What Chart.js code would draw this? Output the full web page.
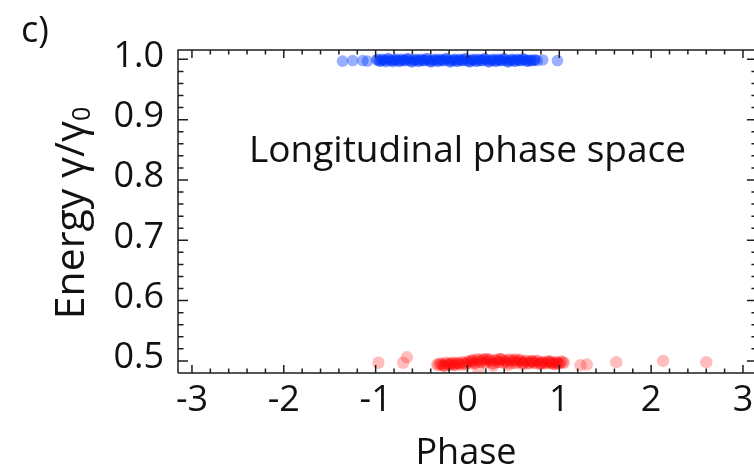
<!DOCTYPE html>
<html>
<head>
<meta charset="utf-8">
<script src="https://cdn.jsdelivr.net/npm/chart.js@4/dist/chart.umd.min.js"></script>
<style>
  html, body { margin: 0; padding: 0; background: #fff; }
  #wrap { width: 754px; height: 468px; }
</style>
</head>
<body>
<div id="wrap"><canvas id="c"></canvas></div>
<script>
// tick labels
var xTicks = [-3, -2, -1, 0, 1, 2, 3];
var yTicks = [0.5, 0.6, 0.7, 0.8, 0.9, 1.0];

// blue bunch, energy ~ 1.0
var blueX = [-1.36, -1.25, -1.14, -1.09,
  -0.99, -0.96, -0.93, -0.90, -0.87, -0.84, -0.81, -0.78, -0.75, -0.72, -0.69, -0.66, -0.63, -0.60,
  -0.57, -0.54, -0.51, -0.48, -0.45, -0.42, -0.39, -0.36, -0.33, -0.30, -0.27, -0.24, -0.21, -0.18,
  -0.15, -0.12, -0.09, -0.06, -0.03, 0.00, 0.03, 0.06, 0.09, 0.12, 0.15, 0.18, 0.21, 0.24, 0.27,
  0.30, 0.33, 0.36, 0.39, 0.42, 0.45, 0.48, 0.51, 0.54, 0.57, 0.60, 0.63, 0.66, 0.69, 0.73, 0.76,
  0.82, 0.98,
  -0.975, -0.945, -0.915, -0.885, -0.855, -0.825, -0.795, -0.765, -0.735, -0.705, -0.675, -0.645,
  -0.615, -0.585, -0.555, -0.525, -0.495, -0.465, -0.435, -0.405, -0.375, -0.345, -0.315, -0.285,
  -0.255, -0.225, -0.195, -0.165, -0.135, -0.105, -0.075, -0.045, -0.015, 0.015, 0.045, 0.075,
  0.105, 0.135, 0.165, 0.195, 0.225, 0.255, 0.285, 0.315, 0.345, 0.375, 0.405, 0.435, 0.465,
  0.495, 0.525, 0.555, 0.585, 0.615, 0.645, 0.675, 0.705, 0.735];
var blueY = [0.997, 0.998, 0.998, 0.997,
  0.999, 0.997, 1.000, 0.998, 1.001, 0.998, 0.996, 0.999, 0.997, 1.000, 0.998, 1.001, 0.999, 0.996,
  0.999, 0.997, 1.000, 0.998, 1.001, 0.998, 0.996, 0.999, 0.997, 1.000, 0.998, 1.001, 0.999, 0.996,
  0.999, 0.997, 1.000, 0.998, 1.001, 0.998, 0.996, 0.999, 0.997, 1.000, 0.998, 1.001, 0.999, 0.996,
  0.999, 0.997, 1.000, 0.998, 1.001, 0.998, 0.996, 0.999, 0.997, 1.000, 0.998, 1.001, 0.999, 0.997,
  0.998, 0.999, 0.998, 0.999, 0.998,
  1.000, 0.997, 0.999, 0.996, 1.001, 0.998, 0.999, 1.000, 0.997, 0.999, 0.998, 1.001,
  0.996, 0.999, 1.000, 0.997, 0.999, 0.998, 1.001, 0.996, 0.999, 1.000, 0.997, 0.999,
  0.998, 1.001, 0.996, 0.999, 1.000, 0.997, 0.999, 0.998, 1.001, 0.996, 0.999, 1.000,
  0.997, 0.999, 0.998, 1.001, 0.996, 0.999, 1.000, 0.997, 0.999, 0.998, 1.001, 0.996, 0.999,
  1.000, 0.997, 0.999, 0.998, 1.000, 0.997, 0.999, 0.998, 0.999];

// red bunch, energy ~ 0.5
var redX = [-0.97, -0.70, -0.66,
  -0.33, -0.30, -0.27, -0.24, -0.21, -0.18, -0.15, -0.12, -0.09, -0.06, -0.03, 0.00, 0.03, 0.06,
  0.09, 0.12, 0.15, 0.18, 0.21, 0.24, 0.27, 0.30, 0.33, 0.36, 0.39, 0.42, 0.45, 0.48, 0.51, 0.54,
  0.57, 0.60, 0.63, 0.66, 0.69, 0.72, 0.75, 0.78, 0.81, 0.84, 0.87, 0.90, 0.93, 0.96, 0.99, 1.02,
  1.05, 1.23, 1.30, 1.62, 2.13, 2.60,
  -0.25, -0.15, 0.05, 0.20, 0.28, 0.35, 0.44, 0.52, 0.60, 0.70, 0.80, 0.90, 0.97, 0.12,
  -0.315, -0.285, -0.255, -0.225, -0.195, -0.165, -0.135, -0.105, -0.075, -0.045, -0.015,
  0.015, 0.045, 0.075, 0.105, 0.135, 0.165, 0.195, 0.225, 0.255, 0.285, 0.315, 0.345, 0.375,
  0.405, 0.435, 0.465, 0.495, 0.525, 0.555, 0.585,
  0.615, 0.645, 0.675, 0.705, 0.735, 0.765, 0.795, 0.825, 0.855, 0.885, 0.915, 0.945, 0.975,
  1.005, 1.035];
var redY = [0.497, 0.497, 0.506,
  0.494, 0.496, 0.493, 0.497, 0.494, 0.496, 0.493, 0.497, 0.495, 0.498, 0.494,
  0.499, 0.496, 0.501, 0.497, 0.502, 0.498, 0.503, 0.499, 0.502, 0.496, 0.501, 0.498, 0.503, 0.497,
  0.500, 0.502, 0.496, 0.501, 0.498, 0.502, 0.497,
  0.500, 0.496, 0.499, 0.497, 0.500, 0.495, 0.498, 0.496, 0.499, 0.497, 0.495, 0.498, 0.496, 0.499,
  0.497,
  0.493, 0.494, 0.498, 0.500, 0.498,
  0.492, 0.495, 0.500, 0.503, 0.492, 0.503, 0.493, 0.503, 0.494, 0.500, 0.496, 0.499, 0.495, 0.486,
  0.493, 0.495, 0.492, 0.496, 0.494, 0.497, 0.493, 0.496, 0.494, 0.497, 0.495,
  0.498, 0.501, 0.496, 0.503, 0.499, 0.502, 0.497, 0.503, 0.500, 0.496, 0.502, 0.498, 0.503,
  0.499, 0.497, 0.502, 0.500, 0.496, 0.501, 0.499,
  0.497, 0.500, 0.496, 0.499, 0.497, 0.500, 0.495, 0.498, 0.496, 0.499, 0.497, 0.495, 0.498,
  0.496, 0.498];

function pts(xs, ys) {
  return xs.map(function(x, i) { return { x: x, y: ys[i] }; });
}

var FONT = '"Open Sans", "Noto Sans", sans-serif';

// frame, inward ticks and texts
var decor = {
  id: 'decor',
  afterDraw: function(chart) {
    var ctx = chart.ctx, a = chart.chartArea;
    var xs = chart.scales.x, ys = chart.scales.y;
    var right = xs.getPixelForValue(3.152);
    ctx.save();
    ctx.strokeStyle = '#1e1e1e';
    ctx.lineWidth = 1.5;
    ctx.beginPath();
    ctx.moveTo(a.left, a.bottom); ctx.lineTo(a.left, a.top); ctx.lineTo(right, a.top);
    ctx.moveTo(a.left, a.bottom); ctx.lineTo(right, a.bottom);
    for (var i = -15; i <= 15; i++) {
      var px = xs.getPixelForValue(i / 5);
      var len = (i % 5 === 0) ? 8 : 4.5;
      ctx.moveTo(px, a.bottom); ctx.lineTo(px, a.bottom - len);
      ctx.moveTo(px, a.top); ctx.lineTo(px, a.top + len);
    }
    for (var j = 24; j <= 50; j++) {
      var py = ys.getPixelForValue(j / 50);
      var l2 = (j % 5 === 0) ? 10 : 5.5;
      ctx.moveTo(a.left, py); ctx.lineTo(a.left + l2, py);
      ctx.moveTo(right, py); ctx.lineTo(right - l2, py);
    }
    ctx.stroke();

    ctx.fillStyle = '#111';
    ctx.font = '36px ' + FONT;
    ctx.textAlign = 'left';
    ctx.textBaseline = 'alphabetic';
    ctx.fillText('c)', 21, 42);

    ctx.font = '37px ' + FONT;
    ctx.textAlign = 'center';
    ctx.fillText('Longitudinal phase space', xs.getPixelForValue(0), ys.getPixelForValue(0.829));

    // y title with subscript
    ctx.translate(84, 213);
    ctx.rotate(-Math.PI / 2);
    ctx.font = '41px ' + FONT;
    var main = 'Energy \u03b3/\u03b3';
    var w1 = ctx.measureText(main).width;
    ctx.font = '25px ' + FONT;
    var w2 = ctx.measureText('0').width;
    var s = -(w1 + w2) / 2;
    ctx.textAlign = 'left';
    ctx.font = '41px ' + FONT;
    ctx.fillText(main, s, 0);
    ctx.font = '25px ' + FONT;
    ctx.fillText('0', s + w1, 6);
    ctx.restore();
  }
};

new Chart(document.getElementById('c'), {
  type: 'scatter',
  data: {
    datasets: [
      { label: 'gamma0', data: pts(blueX, blueY), backgroundColor: 'rgba(0,55,255,0.4)',
        borderWidth: 0, pointRadius: 5.8, pointHoverRadius: 5.8 },
      { label: 'gamma0/2', data: pts(redX, redY), backgroundColor: 'rgba(255,0,0,0.26)',
        borderWidth: 0, pointRadius: 6.2, pointHoverRadius: 6.2 }
    ]
  },
  options: {
    responsive: true,
    maintainAspectRatio: false,
    animation: false,
    events: [],
    layout: { autoPadding: false, padding: { top: 50, right: 0, left: 0, bottom: 0 } },
    plugins: { legend: { display: false }, tooltip: { enabled: false } },
    scales: {
      x: {
        type: 'linear', min: -3.152, max: 3.12,
        grid: { display: false, drawTicks: false },
        border: { display: false },
        afterBuildTicks: function(s) { s.ticks = xTicks.map(function(v) { return { value: v }; }); },
        afterFit: function(s) { s.height = 95; s.paddingLeft = 0; s.paddingRight = 0; },
        ticks: { color: '#111', font: { family: FONT, size: 36 }, padding: 6, maxRotation: 0,
          callback: function(v) { return String(v); } },
        title: { display: true, text: 'Phase', color: '#111', font: { family: FONT, size: 36, lineHeight: 1 },
          padding: { top: 0, bottom: -4 } }
      },
      y: {
        type: 'linear', min: 0.480, max: 1.0155,
        grid: { display: false, drawTicks: false },
        border: { display: false },
        afterBuildTicks: function(s) { s.ticks = yTicks.map(function(v) { return { value: v }; }); },
        afterFit: function(s) { s.width = 178; s.paddingTop = 0; s.paddingBottom = 0; },
        ticks: { color: '#111', font: { family: FONT, size: 36 }, padding: 14, labelOffset: -3,
          callback: function(v) { return v.toFixed(1); } }
      }
    }
  },
  plugins: [decor]
});
</script>
</body>
</html>
